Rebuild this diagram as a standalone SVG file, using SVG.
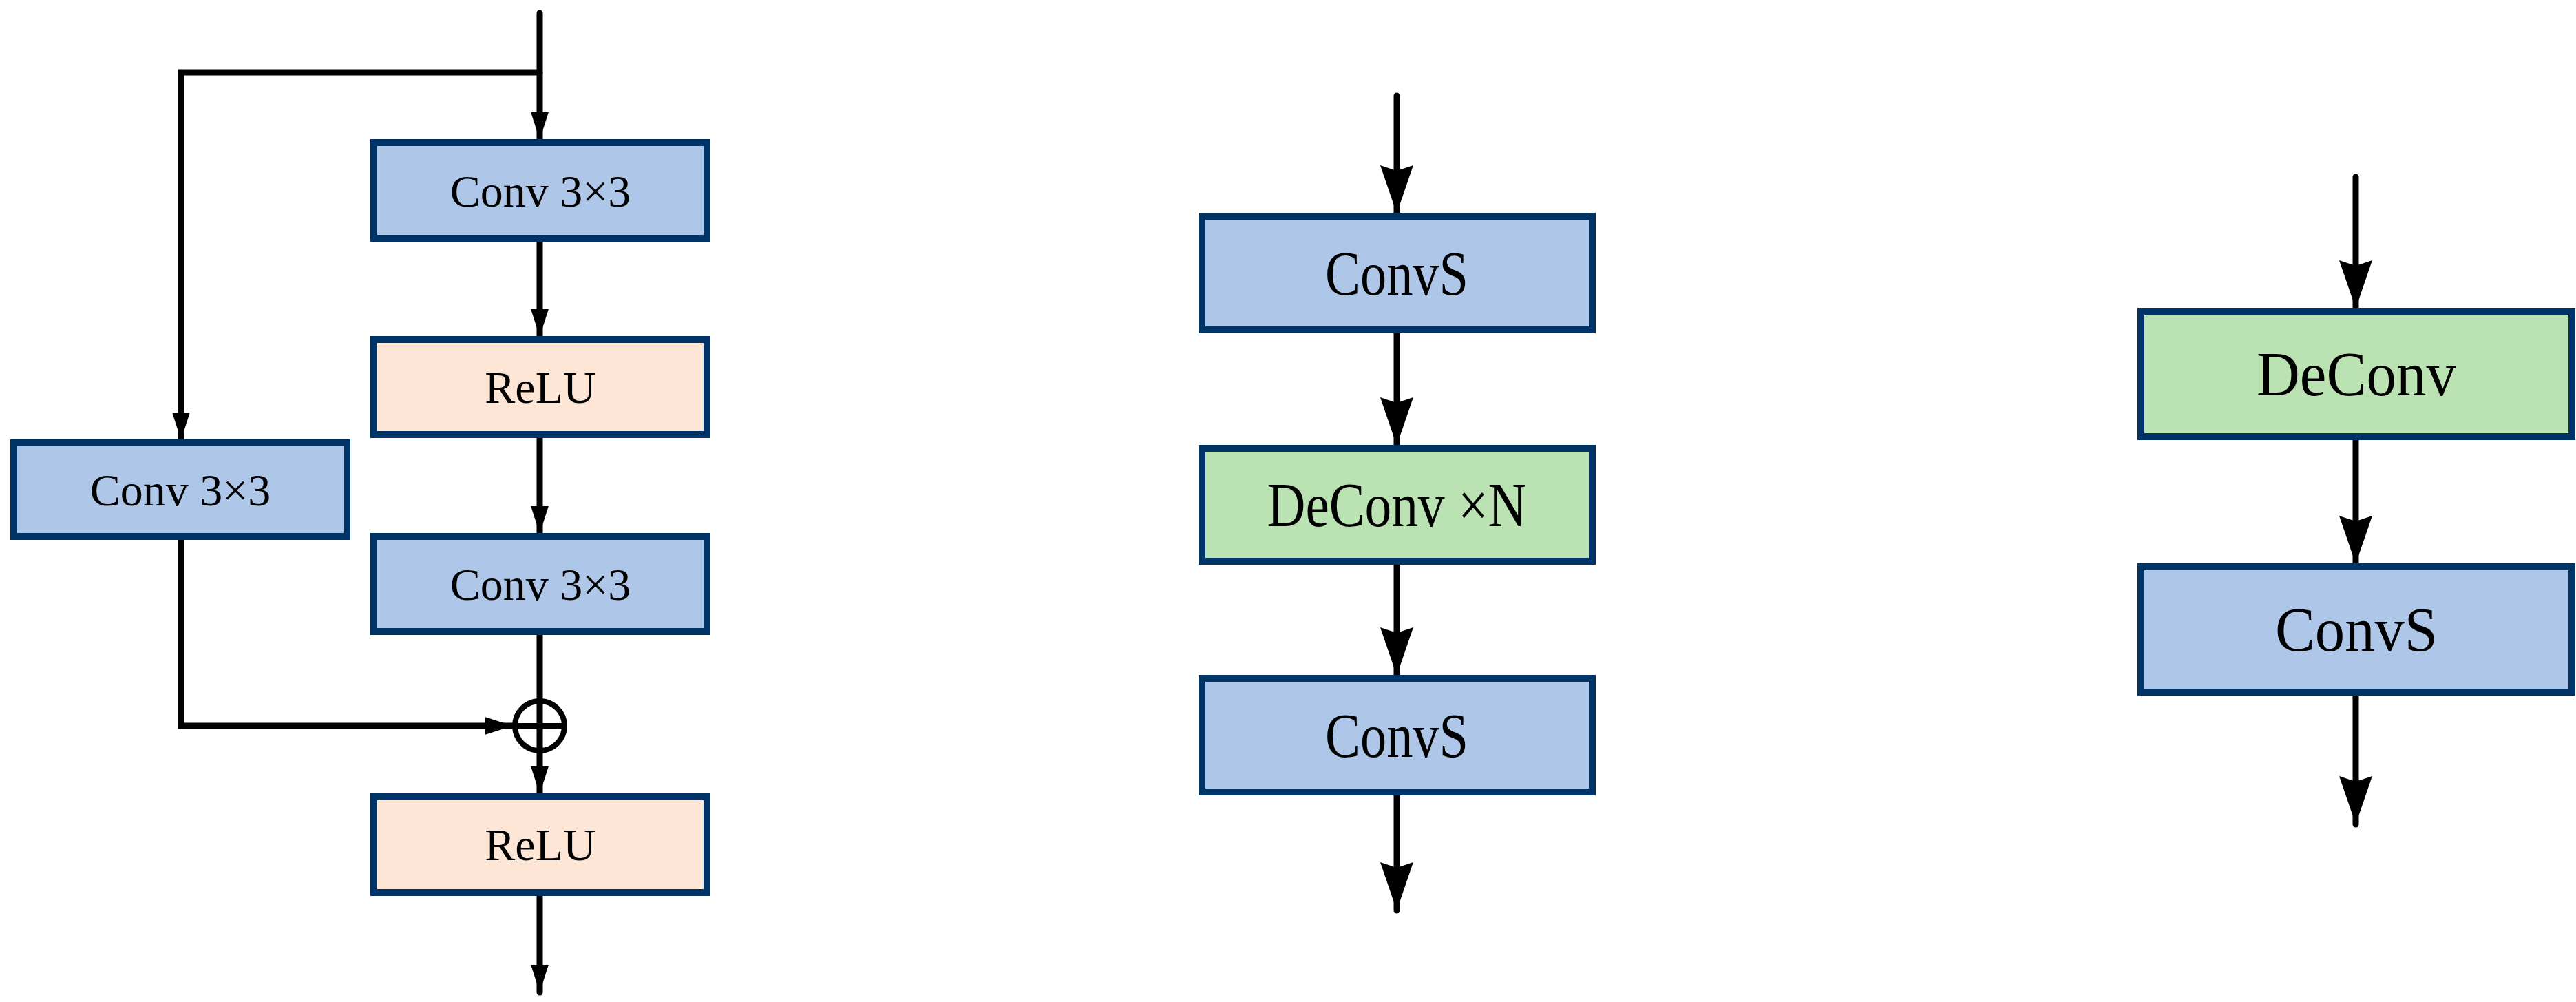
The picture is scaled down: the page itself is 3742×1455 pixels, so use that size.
<svg xmlns="http://www.w3.org/2000/svg" width="3742" height="1455" viewBox="0 0 3742 1455">
<style>
.b{fill:#aec7e8;stroke:#003366;stroke-width:10}
.r{fill:#fde6d6;stroke:#003366;stroke-width:10}
.g{fill:#bbe2b2;stroke:#003366;stroke-width:10}
.t{font-family:"Liberation Serif",serif;font-size:66px;text-anchor:middle;dominant-baseline:central;fill:#000}
.c{font-family:"Liberation Serif",serif;font-size:92px;text-anchor:middle;dominant-baseline:central;fill:#000}
.l{stroke:#000;stroke-width:9;fill:none;stroke-linecap:round}
</style>
<defs>
<marker id="a" markerUnits="userSpaceOnUse" markerWidth="40" markerHeight="60" refX="56" refY="18" orient="auto" viewBox="0 0 56 36"><path d="M0,0 L56,18 L0,36 z" fill="#000"/></marker>
<marker id="s" markerUnits="userSpaceOnUse" markerWidth="70" markerHeight="50" refX="70" refY="24" orient="auto" viewBox="0 0 70 48"><path d="M0,0 L70,24 L0,48 L8,24 z" fill="#000"/></marker>
</defs>
<g id="connectors">
<path class="l" d="M784,19 V203" marker-end="url(#a)"/>
<path class="l" d="M784,105 H263 V639" marker-end="url(#a)"/>
<path class="l" d="M784,346 V489" marker-end="url(#a)"/>
<path class="l" d="M784,631 V775" marker-end="url(#a)"/>
<path class="l" d="M784,917 V1153" marker-end="url(#a)"/>
<path class="l" d="M263,779 V1054 H745" marker-end="url(#a)"/>
<path class="l" d="M784,1296 V1441" marker-end="url(#a)"/>
<path class="l" d="M2029,139 V310" marker-end="url(#s)"/>
<path class="l" d="M2029,479 V647" marker-end="url(#s)"/>
<path class="l" d="M2029,815 V981" marker-end="url(#s)"/>
<path class="l" d="M2029,1150 V1322" marker-end="url(#s)"/>
<path class="l" d="M3422,257 V448" marker-end="url(#s)"/>
<path class="l" d="M3422,634 V819" marker-end="url(#s)"/>
<path class="l" d="M3422,1005 V1197" marker-end="url(#s)"/>
</g>
<g id="sum"><circle cx="784" cy="1054" r="36" fill="none" stroke="#000" stroke-width="8"/><path d="M748,1054 H820 M784,1018 V1090" stroke="#000" stroke-width="8"/></g>
<g id="n1"><rect class="b" x="543" y="207" width="484" height="139"/><text class="t" x="785" y="277">Conv 3×3</text></g>
<g id="n2"><rect class="r" x="543" y="493" width="484" height="138"/><text class="t" x="785" y="562">ReLU</text></g>
<g id="n3"><rect class="b" x="543" y="779" width="484" height="138"/><text class="t" x="785" y="848">Conv 3×3</text></g>
<g id="n4"><rect class="b" x="20" y="643" width="484" height="136"/><text class="t" x="262" y="711">Conv 3×3</text></g>
<g id="n5"><rect class="r" x="543" y="1157" width="484" height="139"/><text class="t" x="785" y="1226">ReLU</text></g>
<g id="m1"><rect class="b" x="1746" y="314" width="567" height="165"/><text class="c" x="2029" y="397" textLength="208" lengthAdjust="spacingAndGlyphs">ConvS</text></g>
<g id="m2"><rect class="g" x="1746" y="651" width="567" height="164"/><text class="c" x="2029" y="733" textLength="377" lengthAdjust="spacingAndGlyphs">DeConv ×N</text></g>
<g id="m3"><rect class="b" x="1746" y="985" width="567" height="165"/><text class="c" x="2029" y="1068" textLength="208" lengthAdjust="spacingAndGlyphs">ConvS</text></g>
<g id="r1"><rect class="g" x="3110" y="452" width="626" height="182"/><text class="c" x="3423" y="543" font-size="100" textLength="290" lengthAdjust="spacingAndGlyphs">DeConv</text></g>
<g id="r2"><rect class="b" x="3110" y="823" width="626" height="182"/><text class="c" x="3423" y="914" font-size="100" textLength="236" lengthAdjust="spacingAndGlyphs">ConvS</text></g>
</svg>
